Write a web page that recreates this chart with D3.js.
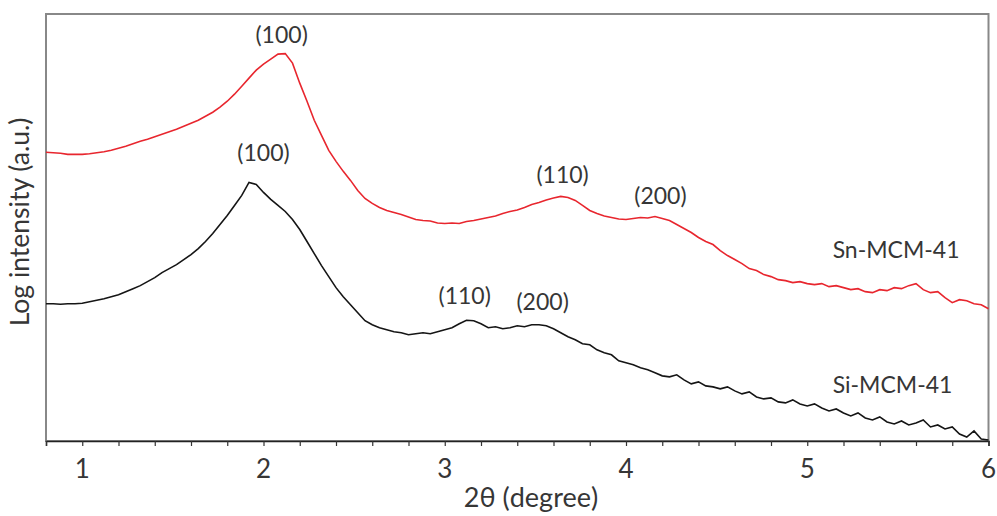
<!DOCTYPE html>
<html>
<head>
<meta charset="utf-8">
<script src="https://cdn.jsdelivr.net/npm/d3@7"></script>
<style>
  body { margin: 0; background: #fff; }
  text { font-family: Lato, "Open Sans", sans-serif; fill: #363636; }
</style>
</head>
<body>
<script>
// XRD scan, 2theta from 0.8 to 6 deg, step 0.04
var thetaStart = 0.8;
var thetaStep = 0.04;

// log intensity (a.u.)
var snMCM41 = [288, 287.5, 287, 286, 286, 286, 286.5, 287.5, 288.5, 290,
  292, 294, 296.5, 299, 301, 303.5, 306, 308.5, 311, 314,
  317, 320, 324, 328, 333, 339, 346, 354, 362, 370,
  376, 381, 386, 386.5, 377, 357, 339, 320, 305, 290,
  279, 269, 260, 250, 242, 237, 233, 230, 228, 226,
  223.5, 221, 220, 219.5, 217.5, 217, 217.5, 217, 219, 220,
  221.5, 223, 224.5, 227, 229, 230.5, 233, 236, 238, 240.5,
  242.5, 244, 243, 240, 235, 230, 227, 224.5, 223, 221.5,
  221, 222, 223, 222.5, 224, 222, 220, 216, 212, 208,
  203, 199, 196, 190, 185, 181, 177, 172, 170, 166,
  164, 161, 160, 158, 159, 157, 156, 157, 154, 155,
  153, 151, 152, 149, 148, 151, 150, 153, 152, 155,
  157, 151, 148, 149, 143, 138, 141, 140, 137, 136,
  132];

var siMCM41 = [137, 137, 136.5, 137, 137, 137.5, 139, 140.5, 142, 144,
  146, 149, 152, 155, 159, 163, 168, 172, 176, 181,
  186, 192, 199, 207, 216, 225, 235, 245, 258, 256,
  248, 241, 235, 229, 221, 211, 199, 187, 175, 164,
  153, 144, 136, 128, 120, 116, 113, 111, 109, 108,
  106, 107, 108, 107, 109, 111, 113, 117, 120.5, 120,
  117, 113, 114, 112, 113, 115, 114, 116, 116, 115,
  112, 108, 104, 101, 97, 96, 91, 88, 86, 80,
  78, 76, 73, 71, 68, 65, 64, 66, 61, 57,
  59, 55, 54, 52, 54, 50, 47, 49, 44, 42,
  43, 39, 38, 41, 37, 35, 37, 33, 30, 32,
  28, 25, 28, 23, 21, 24, 19, 17, 20, 16,
  18, 21, 14, 16, 12, 14, 7, 4, 10, 2,
  1];

var xTicks = [1, 2, 3, 4, 5, 6];

var peakLabels = [
  { text: '(100)', x: 2.10, y: 397, series: 'sn' },
  { text: '(110)', x: 3.65, y: 257, series: 'sn' },
  { text: '(200)', x: 4.19, y: 236, series: 'sn' },
  { text: '(100)', x: 2.00, y: 279, series: 'si' },
  { text: '(110)', x: 3.11, y: 137, series: 'si' },
  { text: '(200)', x: 3.54, y: 131, series: 'si' }
];

var seriesNames = [
  { text: 'Sn-MCM-41', x: 5.14, y: 183 },
  { text: 'Si-MCM-41', x: 5.14, y: 48 }
];

var width = 997, height = 516;
var margin = { top: 14, right: 8, bottom: 75, left: 46 };

var svg = d3.select('body').append('svg')
  .attr('width', width)
  .attr('height', height);

var x = d3.scaleLinear()
  .domain([0.8, 6])
  .range([margin.left, width - margin.right - 0.5]);

var y = d3.scaleLinear()
  .domain([0, 426])
  .range([height - margin.bottom, margin.top]);

function toPoints(vals) {
  return vals.map(function(v, i) {
    return { t: thetaStart + i * thetaStep, v: v };
  });
}

var line = d3.line()
  .x(function(d) { return x(d.t); })
  .y(function(d) { return y(d.v); });

// frame
svg.append('rect')
  .attr('x', x(0.8))
  .attr('y', y(426))
  .attr('width', x(6) - x(0.8))
  .attr('height', y(0) - y(426))
  .style('fill', 'none')
  .style('stroke', '#888')
  .style('stroke-width', 2);

// curves
svg.append('path')
  .datum(toPoints(snMCM41))
  .attr('d', line)
  .style('fill', 'none')
  .style('stroke', '#e8262e')
  .style('stroke-width', 1.6);

svg.append('path')
  .datum(toPoints(siMCM41))
  .attr('d', line)
  .style('fill', 'none')
  .style('stroke', '#151515')
  .style('stroke-width', 1.6);

// x axis
var minorTicks = d3.range(0, 27).map(function(i) { return 0.8 + i * 0.2; });
var xAxis = svg.append('g')
  .attr('transform', 'translate(0,' + y(0) + ')')
  .call(d3.axisBottom(x)
    .tickValues(minorTicks)
    .tickSize(5)
    .tickFormat(''));
xAxis.select('.domain').style('stroke', '#222').style('stroke-width', 1.5);
xAxis.selectAll('.tick line').style('stroke', '#333').style('stroke-width', 1.2);

svg.selectAll('.xlab')
  .data(xTicks)
  .enter().append('text')
  .attr('class', 'xlab')
  .attr('x', function(d) { return x(d); })
  .attr('y', 478)
  .attr('text-anchor', 'middle')
  .style('font-size', '26px')
  .text(function(d) { return d; });

svg.append('text')
  .attr('x', 531)
  .attr('y', 507)
  .attr('text-anchor', 'middle')
  .style('font-size', '27px')
  .text('2θ (degree)');

svg.append('text')
  .attr('transform', 'translate(29,222) rotate(-90)')
  .attr('text-anchor', 'middle')
  .style('font-size', '26.5px')
  .text('Log intensity (a.u.)');

// peak labels
svg.selectAll('.peak')
  .data(peakLabels)
  .enter().append('text')
  .attr('class', 'peak')
  .attr('x', function(d) { return x(d.x); })
  .attr('y', function(d) { return y(d.y); })
  .attr('text-anchor', 'middle')
  .style('font-size', '23px')
  .text(function(d) { return d.text; });

svg.selectAll('.sname')
  .data(seriesNames)
  .enter().append('text')
  .attr('class', 'sname')
  .attr('x', function(d) { return x(d.x); })
  .attr('y', function(d) { return y(d.y); })
  .style('font-size', '23px')
  .text(function(d) { return d.text; });
</script>
</body>
</html>
